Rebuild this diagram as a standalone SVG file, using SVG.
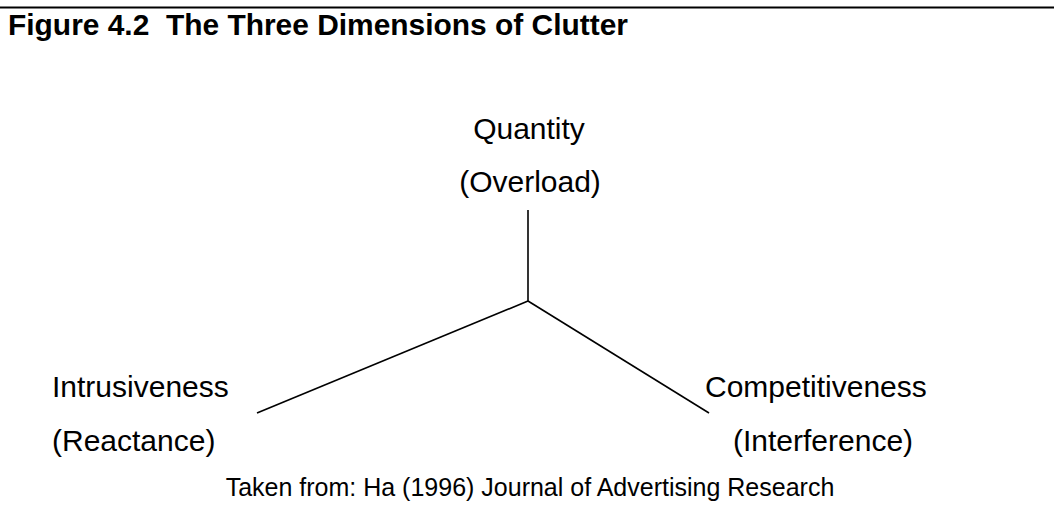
<svg xmlns="http://www.w3.org/2000/svg" width="1054" height="512" viewBox="0 0 1054 512">
  <style>
    .title { font-family: "Liberation Sans", Arial, sans-serif; font-weight: bold; font-size: 30px; fill: #000; }
    .label { font-family: "Liberation Sans", Arial, sans-serif; font-size: 30px; fill: #000; }
    .note { font-family: "Liberation Sans", Arial, sans-serif; font-size: 25px; fill: #000; }
    .edge { stroke: #000; stroke-width: 1.6; fill: none; stroke-linecap: butt; }
  </style>
  <rect width="1054" height="512" fill="#fff"/>
  <!-- rule above the caption -->
  <line x1="0" y1="7.5" x2="1054" y2="7.5" stroke="#000" stroke-width="2"/>
  <text class="title" x="8" y="35" xml:space="preserve" textLength="620" lengthAdjust="spacingAndGlyphs">Figure 4.2  The Three Dimensions of Clutter</text>

  <g id="connectors">
    <line class="edge" x1="528" y1="210" x2="528" y2="301"/>
    <line class="edge" x1="528" y1="301" x2="257" y2="413"/>
    <line class="edge" x1="528" y1="301" x2="709" y2="413"/>
  </g>

  <g id="quantity">
    <text class="label" x="529" y="139" text-anchor="middle">Quantity</text>
    <text class="label" x="530" y="192" text-anchor="middle">(Overload)</text>
  </g>
  <g id="intrusiveness">
    <text class="label" x="52" y="397">Intrusiveness</text>
    <text class="label" x="52" y="451">(Reactance)</text>
  </g>
  <g id="competitiveness">
    <text class="label" x="705" y="397">Competitiveness</text>
    <text class="label" x="733" y="451">(Interference)</text>
  </g>

  <text class="note" x="530" y="496" text-anchor="middle">Taken from: Ha (1996) Journal of Advertising Research</text>
</svg>
